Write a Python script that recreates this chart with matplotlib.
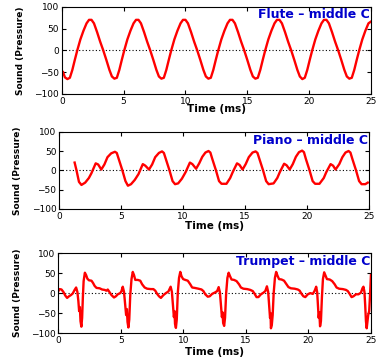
"""Flute, piano and trumpet waveforms for middle C (sound pressure vs time)."""

import matplotlib

matplotlib.use("Agg")
import matplotlib.pyplot as plt

# Flute - near sinusoid, period ~3.8 ms
FLUTE_T = [
    0.1, 0.25, 0.45, 0.65, 0.85, 1.05, 1.25, 1.5, 1.75, 2.0, 2.2, 2.4, 2.6, 2.85, 3.1, 3.35, 3.6, 3.85, 4.05, 4.25,
    4.45, 4.65, 4.85, 5.05, 5.3, 5.55, 5.8, 6.0, 6.2, 6.4, 6.65, 6.9, 7.15, 7.4, 7.65, 7.85, 8.05,
    8.25, 8.45, 8.65, 8.85, 9.1, 9.35, 9.6, 9.8, 10.0, 10.2, 10.45, 10.7, 10.95, 11.2, 11.45, 11.65, 11.85,
    12.05, 12.25, 12.45, 12.65, 12.9, 13.15, 13.4, 13.6, 13.8, 14.0, 14.25, 14.5, 14.75, 15.0, 15.25, 15.45, 15.65,
    15.85, 16.05, 16.25, 16.45, 16.7, 16.95, 17.2, 17.4, 17.6, 17.8, 18.05, 18.3, 18.55, 18.8, 19.05, 19.25, 19.45,
    19.65, 19.85, 20.05, 20.25, 20.5, 20.75, 21.0, 21.2, 21.4, 21.6, 21.85, 22.1, 22.35, 22.6, 22.85, 23.05, 23.25,
    23.45, 23.65, 23.85, 24.05, 24.3, 24.55, 24.8, 25.0,
]
FLUTE_Y = [
    -50, -62, -66, -63, -45, -22, 0, 25, 45, 62, 70, 70, 62, 42, 20, 0, -22, -45, -60, -65,
    -63, -45, -22, 0, 25, 45, 62, 70, 70, 62, 42, 20, 0, -22, -45, -60, -65,
    -63, -45, -22, 0, 25, 45, 62, 70, 70, 62, 42, 20, 0, -22, -45, -60, -65,
    -63, -45, -22, 0, 25, 45, 62, 70, 70, 62, 42, 20, 0, -22, -45, -60, -65,
    -63, -45, -22, 0, 25, 45, 62, 70, 70, 62, 42, 20, 0, -22, -45, -60, -66,
    -63, -45, -22, 0, 25, 45, 62, 70, 70, 62, 42, 20, 0, -22, -45, -60, -65,
    -63, -45, -22, 0, 25, 45, 62, 66,
]

# Piano - main peak plus a small hump each cycle
PIANO_T = [
    1.25, 1.4, 1.6, 1.8, 2.1, 2.4, 2.6, 2.95, 3.15, 3.4, 3.65, 3.9, 4.2, 4.5, 4.65, 4.8, 5.1, 5.35, 5.55, 5.8,
    6.1, 6.4, 6.75, 6.95, 7.25, 7.5, 7.75, 8.05, 8.3, 8.45, 8.6, 8.9, 9.15, 9.35, 9.6,
    9.9, 10.2, 10.55, 10.75, 11.05, 11.3, 11.55, 11.8, 12.05, 12.2, 12.35, 12.65, 12.9, 13.1, 13.5,
    13.8, 14.0, 14.35, 14.55, 14.8, 15.05, 15.3, 15.6, 15.85, 16.0, 16.15, 16.45, 16.7, 16.9, 17.3,
    17.6, 17.8, 18.15, 18.35, 18.6, 18.85, 19.1, 19.35, 19.6, 19.75, 19.9, 20.2, 20.45, 20.65, 21.0,
    21.35, 21.55, 21.9, 22.1, 22.3, 22.6, 22.85, 23.1, 23.35, 23.5, 23.65, 23.95, 24.2, 24.4, 24.7, 24.9,
]
PIANO_Y = [
    20, 0, -30, -38, -32, -20, -8, 18, 15, 2, 15, 34, 44, 48, 45, 30, 0, -28, -40, -36,
    -25, -10, 16, 12, 2, 15, 34, 45, 49, 45, 30, 0, -28, -36, -34,
    -22, -5, 20, 16, 4, 18, 35, 46, 50, 46, 30, 0, -28, -35, -35,
    -20, -5, 18, 14, 2, 16, 34, 46, 49, 45, 30, 0, -28, -36, -34,
    -20, -5, 17, 13, 2, 16, 35, 47, 51, 47, 30, 0, -28, -35, -35,
    -20, -5, 16, 12, 2, 16, 34, 46, 50, 46, 30, 0, -28, -36, -36, -32,
]

# Trumpet - sharp negative spike followed by a jump each cycle
TRUMPET_T = [
    0.0, 0.1, 0.25, 0.4, 0.55, 0.7, 0.85, 1.0, 1.15, 1.3, 1.42, 1.52, 1.6, 1.66, 1.72, 1.77, 1.84, 1.9, 1.96,
    2.02, 2.12, 2.22, 2.32, 2.45, 2.65, 2.78, 2.9, 3.05, 3.3, 3.5, 3.7, 3.85, 3.95, 4.1, 4.25, 4.45, 4.6, 4.75,
    4.95, 5.05, 5.15, 5.25, 5.33, 5.42, 5.48, 5.53, 5.6, 5.67, 5.75, 5.85, 5.95, 6.05, 6.15, 6.35, 6.55, 6.7,
    6.9, 7.1, 7.4, 7.6, 7.75, 7.9, 8.05, 8.2, 8.4, 8.6, 8.8, 8.98, 9.08, 9.16, 9.24, 9.29, 9.33, 9.4, 9.47,
    9.55, 9.65, 9.75, 9.85, 9.98, 10.15, 10.35, 10.55, 10.7, 10.9, 11.2, 11.45, 11.6, 11.75, 11.95, 12.1,
    12.3, 12.55, 12.7, 12.82, 12.92, 13.0, 13.08, 13.13, 13.18, 13.26, 13.33, 13.42, 13.52, 13.62, 13.72,
    13.85, 14.05, 14.25, 14.45, 14.6, 14.8, 15.1, 15.35, 15.55, 15.7, 15.85, 16.0, 16.2, 16.4, 16.55, 16.68,
    16.78, 16.86, 16.93, 16.97, 17.0, 17.07, 17.14, 17.22, 17.32, 17.42, 17.52, 17.65, 17.85, 18.05, 18.25,
    18.4, 18.6, 18.9, 19.15, 19.3, 19.45, 19.6, 19.75, 19.95, 20.15, 20.35, 20.5, 20.62, 20.7, 20.76, 20.82,
    20.87, 20.93, 21.0, 21.08, 21.16, 21.26, 21.36, 21.48, 21.7, 21.9, 22.1, 22.25, 22.45, 22.75, 23.0, 23.15,
    23.3, 23.45, 23.6, 23.8, 24.0, 24.2, 24.32, 24.4, 24.48, 24.54, 24.6, 24.66, 24.72, 24.78, 24.86, 24.92,
    24.96, 25.0,
]
TRUMPET_Y = [
    5, 10, 9, 3, -6, -12, -8, -5, -1, 8, 14, 3, -20, -45, -35, -70, -84, -62, -10,
    30, 51, 45, 36, 32, 31, 25, 18, 13, 12, 9, 8, 6, 9, 2, -5, -11, -8, -3,
    0, 5, 16, 3, -25, -55, -40, -72, -86, -66, -5, 35, 53, 45, 33, 33, 31, 22,
    14, 11, 10, 10, 6, -2, -8, -12, -5, 0, 4, 16, 3, -28, -60, -45, -77, -87, -66,
    0, 38, 53, 42, 35, 33, 31, 22, 14, 13, 11, 9, 5, -3, -9, -8,
    -2, 2, 5, 15, 2, -28, -60, -48, -75, -82, -62, 0, 38, 51, 43,
    34, 33, 30, 22, 14, 11, 10, 8, 5, -2, -10, -10, -3, 1, 5, 17,
    3, -30, -62, -50, -88, -80, -55, 0, 38, 53, 44, 35, 34, 31, 22,
    15, 12, 11, 9, 6, -2, -8, -10, -3, 0, -2, 6, 16, 2, -30, -62,
    -48, -83, -70, -10, 35, 52, 44, 35, 34, 30, 22, 14, 11, 10, 8, 5,
    -2, -10, -8, -3, -3, 1, 12, 16, 3, -30, -70, -88, -72, -55, -45, -10,
    20, 45,
]

TITLES = ["Flute \u2013 middle C", "Piano \u2013 middle C", "Trumpet \u2013 middle C"]
Y_TICKS = [-100, -50, 0, 50, 100]
X_TICKS = [0, 5, 10, 15, 20, 25]

# [left, bottom, width, height], ylabel x, xlabel y, title y
PANELS = [
    ([0.161, 0.737, 0.805, 0.244], -0.134, -0.172, 0.914),
    ([0.154, 0.415, 0.807, 0.216], -0.135, -0.220, 0.886),
    ([0.152, 0.067, 0.814, 0.224], -0.131, -0.234, 0.900),
]


def draw_panel(fig, rect, t, y, title, ylab_x, xlab_y, title_y):
    ax = fig.add_axes(rect)
    ax.axhline(0, color="black", linestyle=(0, (1, 2)), linewidth=0.8, zorder=1)
    ax.plot(t, y, color="#ff0000", linewidth=1.7, zorder=2)
    ax.set_xlim(0, 25)
    ax.set_ylim(-100, 100)
    ax.set_xticks(X_TICKS)
    ax.set_yticks(Y_TICKS)
    ax.tick_params(direction="in", length=3, width=0.8, top=True, right=True,
                   labelsize=6.5, pad=2)
    for s in ax.spines.values():
        s.set_linewidth(0.8)
    ax.set_xlabel("Time (ms)", fontsize=7.5, fontweight="bold")
    ax.set_ylabel("Sound (Pressure)", fontsize=6.5, fontweight="bold")
    ax.xaxis.label.set_va("center")
    ax.yaxis.label.set_va("center")
    ax.xaxis.set_label_coords(0.5, xlab_y)
    ax.yaxis.set_label_coords(ylab_x, 0.5)
    ax.text(0.997, title_y, title, transform=ax.transAxes, ha="right", va="center",
            color="#0000cc", fontsize=9, fontweight="bold")
    return ax


def main() -> None:
    fig = plt.figure(figsize=(3.84, 3.57), dpi=100, facecolor="white")
    series = [(FLUTE_T, FLUTE_Y), (PIANO_T, PIANO_Y), (TRUMPET_T, TRUMPET_Y)]
    for (rect, ylx, xly, ty), (t, y), title in zip(PANELS, series, TITLES):
        draw_panel(fig, rect, t, y, title, ylx, xly, ty)
    fig.savefig("out.png", dpi=100)


if __name__ == "__main__":
    main()
